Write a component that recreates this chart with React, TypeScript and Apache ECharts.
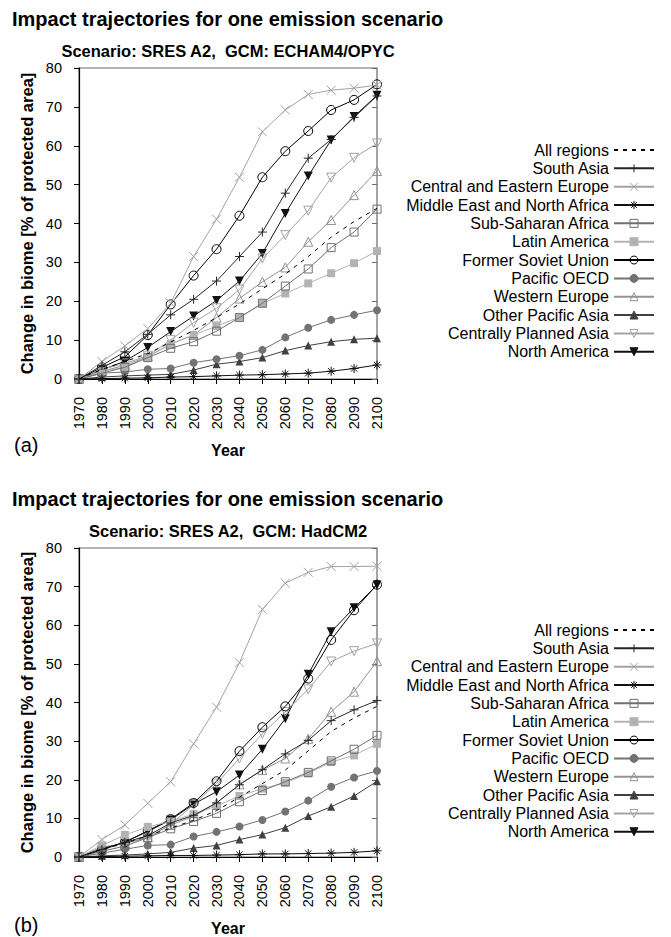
import React, { useEffect, useRef } from "react";
import * as echarts from "echarts";

const FONT = '"Liberation Sans", Arial, Helvetica, sans-serif';

// Decades on the x axis
const years = [1970, 1980, 1990, 2000, 2010, 2020, 2030, 2040, 2050, 2060, 2070, 2080, 2090, 2100];
const yTicks = { min: 0, max: 80, step: 10 };

const regionNames = [
  "All regions",
  "South Asia",
  "Central and Eastern Europe",
  "Middle East and North Africa",
  "Sub-Saharan Africa",
  "Latin America",
  "Former Soviet Union",
  "Pacific OECD",
  "Western Europe",
  "Other Pacific Asia",
  "Centrally Planned Asia",
  "North America",
];

// Panel (a): SRES A2, ECHAM4/OPYC — change in biome [% of protected area]
const echamAll = [0, 2.5, 4.5, 6.5, 9.5, 12.5, 15.8, 19.3, 23.2, 27.0, 31.5, 36.5, 40.5, 43.9];
const echamSouthAsia = [0, 3.5, 7.0, 11.5, 16.5, 20.5, 25.2, 31.5, 37.8, 47.8, 56.8, 61.6, 67.3, 72.8];
const echamCEE = [0, 4.5, 8.5, 13.0, 19.5, 31.5, 41.1, 51.9, 63.6, 69.2, 73.2, 74.3, 74.8, 75.6];
const echamMENA = [0, 0.1, 0.2, 0.3, 0.5, 0.6, 0.8, 1.0, 1.1, 1.3, 1.5, 2.0, 2.7, 3.6];
const echamSSA = [0, 1.5, 3.0, 5.5, 7.9, 9.6, 12.3, 15.8, 19.5, 23.9, 28.3, 33.8, 37.8, 43.7];
const echamLatAm = [0, 2.0, 3.0, 5.7, 9.0, 11.3, 13.6, 15.9, 19.4, 22.0, 24.6, 27.2, 29.8, 32.9];
const echamFSU = [0, 3.0, 5.7, 11.3, 19.2, 26.6, 33.4, 42.0, 51.9, 58.6, 63.8, 69.2, 71.8, 75.8];
const echamPacOECD = [0, 1.5, 1.8, 2.5, 2.7, 4.2, 5.1, 6.0, 7.5, 10.7, 13.2, 15.2, 16.5, 17.7];
const echamWEurope = [0, 2.0, 3.5, 5.8, 9.0, 11.3, 15.8, 20.7, 25.0, 28.7, 35.3, 40.9, 47.3, 53.5];
const echamOPA = [0, 0.5, 0.8, 1.0, 1.2, 2.3, 3.8, 4.5, 5.5, 7.3, 8.6, 9.6, 10.2, 10.5];
const echamCPA = [0, 2.5, 4.0, 6.0, 10.0, 14.5, 18.2, 23.0, 31.0, 37.0, 43.3, 51.8, 56.9, 60.6];
const echamNAm = [0, 2.3, 4.6, 8.1, 12.2, 16.2, 20.2, 25.2, 32.3, 42.6, 52.2, 61.5, 67.5, 73.0];

// Panel (b): SRES A2, HadCM2
const hadAll = [0, 2.0, 3.5, 5.5, 7.5, 9.5, 12.0, 15.5, 19.0, 22.5, 27.5, 32.5, 36.0, 39.0];
const hadSouthAsia = [0, 2.0, 3.8, 5.5, 8.8, 10.8, 14.0, 18.7, 22.6, 26.7, 30.2, 35.3, 38.1, 40.5];
const hadCEE = [0, 4.5, 8.3, 13.9, 19.5, 29.3, 38.8, 50.3, 64.1, 70.9, 73.7, 75.2, 75.2, 75.3];
const hadMENA = [0, 0.1, 0.2, 0.3, 0.4, 0.4, 0.5, 0.6, 0.8, 0.8, 0.9, 1.0, 1.2, 1.6];
const hadSSA = [0, 1.5, 2.8, 5.0, 7.3, 9.2, 11.3, 14.3, 17.2, 19.5, 21.9, 24.9, 27.9, 31.5];
const hadLatAm = [0, 3.0, 5.7, 7.8, 9.2, 11.1, 13.2, 15.8, 17.7, 19.2, 21.6, 24.6, 26.3, 29.3];
const hadFSU = [0, 2.1, 3.8, 6.8, 9.8, 14.0, 19.6, 27.4, 33.6, 39.0, 46.2, 56.2, 63.9, 70.5];
const hadPacOECD = [0, 1.0, 2.0, 3.0, 3.2, 5.3, 6.5, 7.9, 9.6, 11.8, 14.6, 18.2, 20.6, 22.3];
const hadWEurope = [0, 2.5, 3.5, 5.1, 8.3, 10.5, 14.0, 18.8, 22.5, 25.5, 30.6, 37.6, 42.8, 50.7];
const hadOPA = [0, 0.3, 0.5, 0.8, 1.2, 2.3, 3.0, 4.5, 5.8, 7.6, 10.6, 13.0, 15.8, 19.6];
const hadCPA = [0, 2.5, 3.5, 5.0, 8.5, 13.5, 19.0, 25.5, 31.9, 37.6, 43.4, 50.6, 53.3, 55.3];
const hadNAm = [0, 1.8, 3.9, 6.6, 9.6, 13.7, 16.9, 21.2, 27.9, 35.8, 47.3, 58.3, 64.5, 70.4];

const echamValues = [echamAll, echamSouthAsia, echamCEE, echamMENA, echamSSA, echamLatAm, echamFSU, echamPacOECD, echamWEurope, echamOPA, echamCPA, echamNAm];
const hadValues = [hadAll, hadSouthAsia, hadCEE, hadMENA, hadSSA, hadLatAm, hadFSU, hadPacOECD, hadWEurope, hadOPA, hadCPA, hadNAm];

const panels = [
  { title: "Impact trajectories for one emission scenario", subtitle: "Scenario: SRES A2,  GCM: ECHAM4/OPYC", tag: "(a)", values: echamValues },
  { title: "Impact trajectories for one emission scenario", subtitle: "Scenario: SRES A2,  GCM: HadCM2", tag: "(b)", values: hadValues },
];

// Marker shapes drawn as strokes
const PLUS = "path://M0,5L10,5M5,0L5,10";
const CROSS = "path://M0,0L10,10M10,0L0,10";
const STAR = "path://M0,5L10,5M5,0L5,10M1.5,1.5L8.5,8.5M8.5,1.5L1.5,8.5";

type MarkStyle = { color: string; symbol: string; size: number; filled: boolean; rotate?: number; dashed?: boolean };
const markStyles: MarkStyle[] = [
  { color: "#000000", symbol: "none", size: 0, filled: false, dashed: true },
  { color: "#262626", symbol: PLUS, size: 9, filled: false },
  { color: "#a3a3a3", symbol: CROSS, size: 9, filled: false },
  { color: "#111111", symbol: STAR, size: 9, filled: false },
  { color: "#707070", symbol: "rect", size: 8, filled: false },
  { color: "#b3b3b3", symbol: "rect", size: 8, filled: true },
  { color: "#000000", symbol: "circle", size: 9, filled: false },
  { color: "#737373", symbol: "circle", size: 8, filled: true },
  { color: "#939393", symbol: "triangle", size: 9, filled: false },
  { color: "#404040", symbol: "triangle", size: 8, filled: true },
  { color: "#a3a3a3", symbol: "triangle", size: 9, filled: false, rotate: 180 },
  { color: "#111111", symbol: "triangle", size: 9, filled: true, rotate: 180 },
];

// Panel geometry (pixels)
const PANEL_H = 480;
const GRID = { left: 79, top: 68, width: 298, height: 311 };
const CLEAR = "rgba(0,0,0,0)";

function buildOption() {
  const grids: any[] = [];
  const xAxes: any[] = [];
  const yAxes: any[] = [];
  const legends: any[] = [];
  const series: any[] = [];
  const graphics: any[] = [];

  panels.forEach((p, pi) => {
    const off = pi * PANEL_H;
    grids.push({
      left: GRID.left,
      top: GRID.top + off,
      width: GRID.width,
      height: GRID.height,
      show: true,
      borderColor: "#6a6a6a",
      borderWidth: 1.2,
      backgroundColor: "transparent",
    });
    xAxes.push({
      type: "value",
      gridIndex: pi,
      min: years[0],
      max: years[years.length - 1],
      interval: 10,
      name: "Year",
      nameLocation: "middle",
      nameGap: 63,
      nameTextStyle: { fontFamily: FONT, fontSize: 16, fontWeight: "bold", color: "#000" },
      axisLine: { show: true, onZero: false, lineStyle: { color: "#000", width: 1.2 } },
      axisTick: { show: true, inside: false, length: 5, lineStyle: { color: "#000" } },
      axisLabel: {
        rotate: 90,
        margin: 18,
        fontFamily: FONT,
        fontSize: 14.5,
        color: "#000",
        formatter: (v: number) => String(v),
      },
      splitLine: { show: false },
    });
    yAxes.push({
      type: "value",
      gridIndex: pi,
      position: "left",
      min: yTicks.min,
      max: yTicks.max,
      interval: yTicks.step,
      name: "Change in biome [% of protected area]",
      nameLocation: "middle",
      nameGap: 44,
      nameTextStyle: { fontFamily: FONT, fontSize: 16.5, fontWeight: "bold", color: "#000" },
      axisLine: { show: true, lineStyle: { color: "#000", width: 1.2 } },
      axisTick: { show: true, inside: false, length: 5, lineStyle: { color: "#000" } },
      axisLabel: { margin: 17, fontFamily: FONT, fontSize: 14.5, color: "#000" },
      splitLine: { show: false },
    });
    yAxes.push({
      type: "value",
      gridIndex: pi,
      position: "right",
      min: yTicks.min,
      max: yTicks.max,
      interval: yTicks.step,
      axisLine: { show: false },
      axisTick: { show: true, inside: true, length: 5, lineStyle: { color: "#6a6a6a" } },
      axisLabel: { show: false },
      splitLine: { show: false },
    });

    regionNames.forEach((name, i) => {
      const st = markStyles[i];
      series.push({
        type: "line",
        name,
        xAxisIndex: pi,
        yAxisIndex: pi * 2,
        data: years.map((yr, k) => [yr, p.values[i][k]]),
        symbol: st.symbol,
        symbolSize: st.size,
        symbolRotate: st.rotate || 0,
        showSymbol: st.symbol !== "none",
        clip: false,
        z: 2 + (12 - i) * 0.01,
        lineStyle: { color: st.color, width: 1, type: st.dashed ? [4, 5] : "solid" },
        itemStyle: {
          color: st.filled ? st.color : CLEAR,
          borderColor: st.color,
          borderWidth: st.filled ? 0 : 1,
        },
        emphasis: { disabled: true },
      });
    });

    legends.push({
      orient: "vertical",
      align: "right",
      right: 16,
      top: 142 + off,
      padding: 0,
      itemWidth: 40,
      itemHeight: 10,
      itemGap: 2.34,
      selectedMode: false,
      itemStyle: { borderWidth: 1 },
      data: regionNames.map((name, i) =>
        markStyles[i].symbol === "none"
          ? { name, itemStyle: { color: CLEAR, borderColor: CLEAR, borderWidth: 0 } }
          : { name }
      ),
      textStyle: { fontFamily: FONT, fontSize: 16, color: "#000" },
    });

    graphics.push(
      {
        type: "text",
        x: 12,
        y: 19 + off,
        style: { text: p.title, fontFamily: FONT, fontSize: 20, fontWeight: "bold", fill: "#000", align: "left", verticalAlign: "middle" },
      },
      {
        type: "text",
        x: GRID.left + GRID.width / 2,
        y: 51 + off,
        style: { text: p.subtitle, fontFamily: FONT, fontSize: 16.5, fontWeight: "bold", fill: "#000", align: "center", verticalAlign: "middle" },
      },
      {
        type: "text",
        x: 14,
        y: 445 + off,
        style: { text: p.tag, fontFamily: FONT, fontSize: 20, fill: "#000", align: "left", verticalAlign: "middle" },
      }
    );
  });

  return {
    animation: false,
    backgroundColor: "#ffffff",
    textStyle: { fontFamily: FONT },
    grid: grids,
    xAxis: xAxes,
    yAxis: yAxes,
    legend: legends,
    series,
    graphic: graphics,
  };
}

export default function App() {
  const ref = useRef<HTMLDivElement | null>(null);
  useEffect(() => {
    if (!ref.current) return;
    const chart = echarts.init(ref.current, undefined, { renderer: "svg" });
    chart.setOption(buildOption() as any);
    return () => chart.dispose();
  }, []);
  return (
    <div
      ref={ref}
      style={{ position: "absolute", left: 0, top: 0, width: 671, height: 937, background: "#fff" }}
    />
  );
}
